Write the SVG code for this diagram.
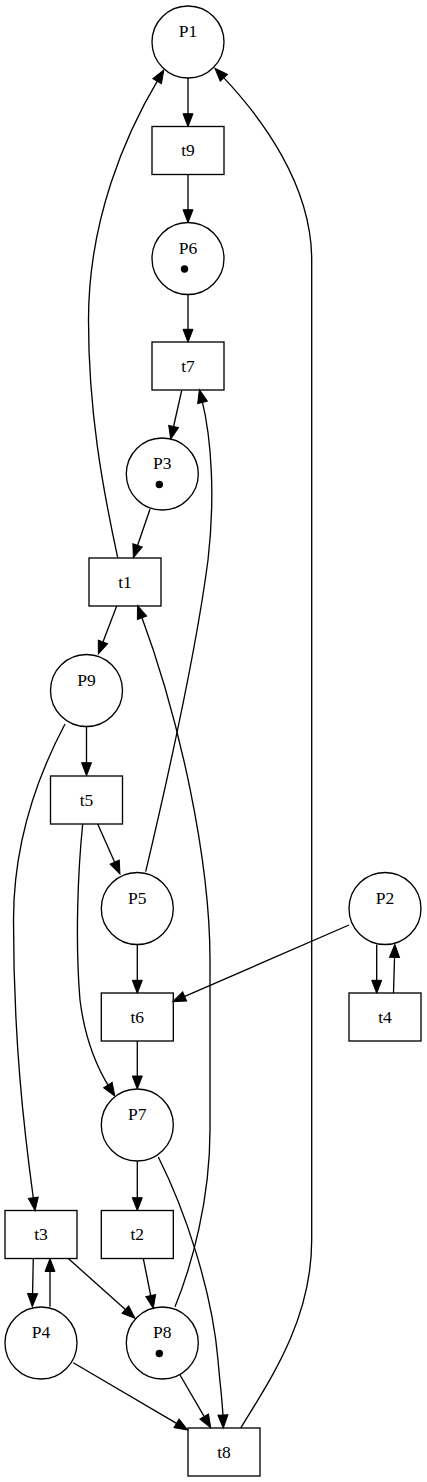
<svg xmlns="http://www.w3.org/2000/svg" width="427" height="1482" viewBox="0 0 427 1482">
<style>
.n{fill:none;stroke:#000;stroke-width:1.33}
.t{font-family:"Liberation Serif","Times New Roman",serif;font-size:17.5px;fill:#000;text-anchor:middle}
.e{fill:none;stroke:#000;stroke-width:1.33;marker-end:url(#ah)}
.tok{fill:#000}
</style>
<defs>
<marker id="ah" markerUnits="userSpaceOnUse" markerWidth="14" markerHeight="12" viewBox="0 0 14 12" refX="3" refY="6" orient="auto" overflow="visible">
<path d="M0,1 L13,6 L0,11 z" fill="#000" stroke="#000" stroke-width="1"/>
</marker>
</defs>
<rect width="427" height="1482" fill="#fff"/>
<g id="edges">
<path class="e" d="M188,78 L188,116.7"/>
<path class="e" d="M188,174.5 L188,212.7"/>
<path class="e" d="M188,294.5 L188,332.3"/>
<path class="e" d="M181.7,390.5 L172.9,429.5"/>
<path class="e" d="M150,509.3 L136.6,548.2"/>
<path class="e" d="M117.7,557.7 C102,485 88.5,410 88.5,320 C88.5,220 125,135 158.7,78.6"/>
<path class="e" d="M116.7,606 L101.9,644.7"/>
<path class="e" d="M86.5,727 L86.5,765.7"/>
<path class="e" d="M65,724 C38,775 13.5,840 13.5,920 C13.5,1040 24,1130 33.7,1200.8"/>
<path class="e" d="M97.7,824 L115.9,864.9"/>
<path class="e" d="M82.7,824 C78,870 75,940 80,1000 C85,1040 96,1066 109.5,1087.6"/>
<path class="e" d="M145.7,871.7 C165,790 195,660 208,560 C215,500 212,440 201.8,399.4"/>
<path class="e" d="M137.3,944.5 L137.3,983.3"/>
<path class="e" d="M349,925 L181.9,997.7"/>
<path class="e" d="M376.7,944.5 L376.7,983.3"/>
<path class="e" d="M393.5,993.3 L394.6,954.4"/>
<path class="e" d="M137.3,1041 L137.3,1079"/>
<path class="e" d="M137.3,1161.3 L137.3,1200.7"/>
<path class="e" d="M158.3,1157 C185,1210 212,1290 218,1360 C220,1385 222.5,1400 223,1418"/>
<path class="e" d="M175,1306.7 C192,1265 210,1200 210,1130 L210,960 C210,860 180,720 141,615"/>
<path class="e" d="M240.7,1428 C270,1380 311.7,1320 311.7,1240 L311.7,260 C311.7,185 262,118 221.8,75.6"/>
<path class="e" d="M33.3,1258.5 L32.5,1296.7"/>
<path class="e" d="M50,1306.7 L50,1268.5"/>
<path class="e" d="M68.3,1258.5 L127.6,1311.6"/>
<path class="e" d="M143.3,1258.5 L151.3,1298.5"/>
<path class="e" d="M73.3,1362.7 L179.1,1424.9"/>
<path class="e" d="M180,1375 L205.7,1419.1"/>
</g>
<g id="P1"><circle class="n" cx="188" cy="42" r="36"/><text class="t" x="188" y="36.5">P1</text></g>
<g id="t9"><rect class="n" x="152" y="126.5" width="72" height="48"/><text class="t" x="188" y="156">t9</text></g>
<g id="P6"><circle class="n" cx="188" cy="258.5" r="36"/><text class="t" x="188" y="253.5">P6</text><circle class="tok" cx="184.5" cy="269" r="3.7"/></g>
<g id="t7"><rect class="n" x="152" y="342" width="72" height="48"/><text class="t" x="188" y="371.5">t7</text></g>
<g id="P3"><circle class="n" cx="162.3" cy="474" r="36"/><text class="t" x="162.3" y="469">P3</text><circle class="tok" cx="159.3" cy="484.5" r="3.7"/></g>
<g id="t1"><rect class="n" x="89" y="558" width="72" height="48"/><text class="t" x="125" y="587.5">t1</text></g>
<g id="P9"><circle class="n" cx="86.5" cy="690.5" r="36"/><text class="t" x="86.5" y="685.5">P9</text></g>
<g id="t5"><rect class="n" x="50.5" y="776" width="72" height="48"/><text class="t" x="86.5" y="805.5">t5</text></g>
<g id="P5"><circle class="n" cx="137.3" cy="908.5" r="36"/><text class="t" x="137.3" y="903.5">P5</text></g>
<g id="P2"><circle class="n" cx="385" cy="908.5" r="36"/><text class="t" x="385" y="903.5">P2</text></g>
<g id="t6"><rect class="n" x="101.3" y="993" width="72" height="48"/><text class="t" x="137.3" y="1022.5">t6</text></g>
<g id="t4"><rect class="n" x="349" y="993" width="72" height="48"/><text class="t" x="385" y="1022.5">t4</text></g>
<g id="P7"><circle class="n" cx="137.3" cy="1125" r="36"/><text class="t" x="137.3" y="1120">P7</text></g>
<g id="t3"><rect class="n" x="5" y="1210.5" width="72" height="48"/><text class="t" x="41" y="1240">t3</text></g>
<g id="t2"><rect class="n" x="101.3" y="1210.5" width="72" height="48"/><text class="t" x="137.3" y="1240">t2</text></g>
<g id="P4"><circle class="n" cx="41" cy="1343" r="36"/><text class="t" x="41" y="1338">P4</text></g>
<g id="P8"><circle class="n" cx="162.3" cy="1343" r="36"/><text class="t" x="162.3" y="1338">P8</text><circle class="tok" cx="159.3" cy="1353.5" r="3.7"/></g>
<g id="t8"><rect class="n" x="188" y="1428" width="72" height="48"/><text class="t" x="224" y="1457.5">t8</text></g>
</svg>
